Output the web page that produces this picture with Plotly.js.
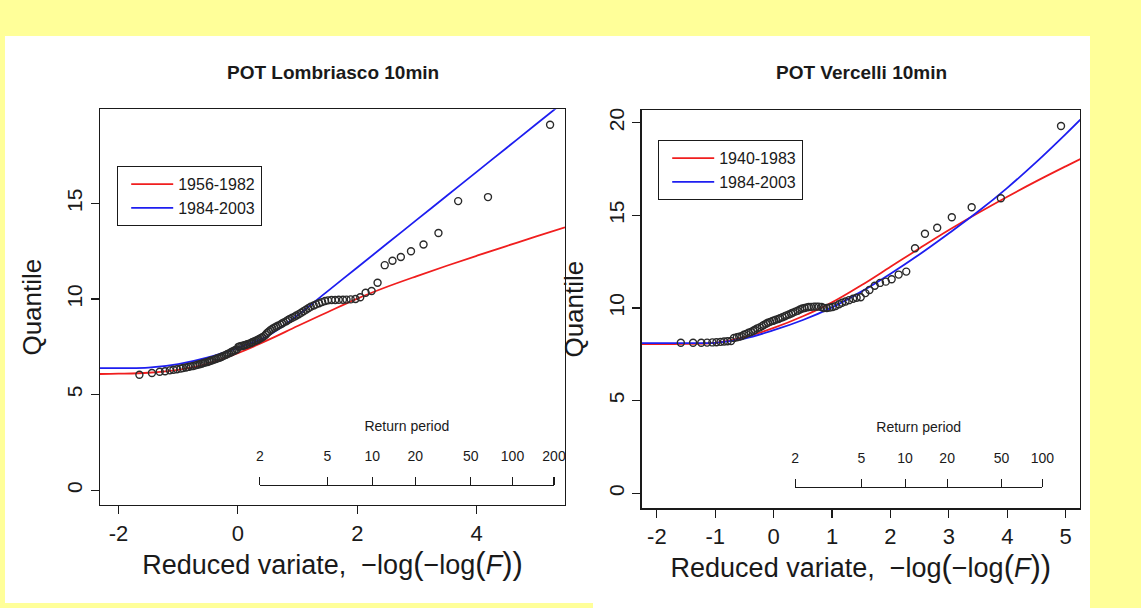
<!DOCTYPE html>
<html><head><meta charset="utf-8">
<script src="https://cdn.plot.ly/plotly-3.0.1.min.js"></script>
<style>html,body{margin:0;padding:0;background:#FFFF99;}#chart{width:1141px;height:608px;}</style>
</head><body><div id="chart"></div>
<script>
// ---------- Left panel: POT Lombriasco 10min ----------
const lombTitle = 'POT Lombriasco 10min';
const lombObsX = [-1.65,-1.44,-1.31,-1.22,-1.14,-1.08,-1.02,-0.96,-0.92,-0.87,-0.83,-0.79,-0.75,-0.71,-0.68,-0.64,-0.61,-0.58,-0.55,-0.51,
  -0.48,-0.46,-0.43,-0.40,-0.37,-0.34,-0.31,-0.28,-0.26,-0.23,-0.20,-0.18,-0.15,-0.12,-0.10,-0.07,-0.05,-0.02,0.01,0.03,
  0.06,0.09,0.11,0.14,0.16,0.19,0.22,0.24,0.27,0.30,0.33,0.35,0.38,0.41,0.44,0.47,0.49,0.52,0.55,0.58,
  0.61,0.64,0.67,0.71,0.74,0.77,0.81,0.84,0.87,0.91,0.95,0.98,1.02,1.06,1.10,1.14,1.18,1.22,1.27,1.31,
  1.36,1.41,1.46,1.51,1.57,1.63,1.69,1.76,1.82,1.89,1.97,2.05,2.14,2.24,2.34,2.46,2.59,2.73,2.90,3.11,
  3.36,3.69,4.19,5.23];
const lombObsY = [6.04,6.13,6.20,6.22,6.27,6.30,6.33,6.36,6.39,6.42,6.45,6.48,6.50,6.53,6.56,6.59,6.62,6.65,6.68,6.71,
  6.74,6.77,6.80,6.83,6.86,6.90,6.93,6.97,7.00,7.04,7.08,7.12,7.16,7.20,7.24,7.28,7.32,7.36,7.50,7.52,
  7.54,7.56,7.58,7.61,7.64,7.67,7.70,7.74,7.78,7.82,7.86,7.90,7.95,8.00,8.06,8.14,8.22,8.30,8.38,8.45,
  8.50,8.55,8.60,8.66,8.72,8.78,8.84,8.90,8.96,9.02,9.08,9.14,9.20,9.28,9.36,9.44,9.52,9.60,9.66,9.72,
  9.78,9.84,9.90,9.93,9.95,9.95,9.96,9.96,9.97,9.98,10.00,10.09,10.33,10.42,10.85,11.77,12.00,12.20,12.50,12.85,
  13.45,15.12,15.33,19.11];
const lombFitX = [-2.31,-2,-1.5,-1,-0.5,0,0.5,1,1.5,2,2.5,3,3.5,4,4.5,5,5.48];
const lombRedY = [6.08,6.095,6.145,6.295,6.625,7.175,7.85,8.59,9.31,10.02,10.64,11.20,11.74,12.26,12.77,13.27,13.75];
const lombBlueY = [6.39,6.39,6.41,6.60,6.95,7.45,8.07,9.15,10.40,11.65,12.90,14.15,15.40,16.65,17.90,19.15,20.35];
const lombLegend = ['1956-1982','1984-2003'];
const lombReturn = [2,5,10,20,50,100,200];
const lombXTicks = [-2,0,2,4];
const lombYTicks = [0,5,10,15];

// ---------- Right panel: POT Vercelli 10min ----------
const vercTitle = 'POT Vercelli 10min';
const vercObsX = [-1.59,-1.38,-1.24,-1.14,-1.05,-0.98,-0.91,-0.85,-0.79,-0.73,-0.68,-0.63,-0.59,-0.55,-0.51,-0.47,-0.43,-0.39,-0.35,-0.32,
  -0.28,-0.24,-0.20,-0.17,-0.13,-0.10,-0.06,-0.02,0.01,0.04,0.08,0.11,0.15,0.19,0.22,0.26,0.30,0.33,0.37,0.41,
  0.45,0.49,0.53,0.57,0.60,0.64,0.69,0.73,0.77,0.82,0.86,0.91,0.96,1.01,1.06,1.12,1.17,1.23,1.29,1.36,
  1.42,1.49,1.57,1.64,1.73,1.82,1.92,2.02,2.14,2.27,2.42,2.59,2.80,3.05,3.39,3.89,4.92];
const vercObsY = [8.12,8.12,8.12,8.13,8.14,8.15,8.17,8.19,8.20,8.22,8.38,8.42,8.45,8.48,8.55,8.60,8.66,8.70,8.77,8.82,
  8.90,8.95,9.02,9.08,9.15,9.20,9.25,9.30,9.33,9.37,9.40,9.45,9.50,9.55,9.60,9.65,9.70,9.75,9.80,9.85,
  9.92,9.97,10.00,10.03,10.05,10.06,10.07,10.07,10.07,10.05,10.00,10.00,10.02,10.05,10.10,10.20,10.28,10.35,10.42,10.50,
  10.55,10.58,10.80,10.97,11.20,11.35,11.42,11.55,11.80,11.96,13.22,14.00,14.33,14.89,15.43,15.92,19.82];
const vercFitX = [-2.26,-1.5,-1,-0.5,0,0.5,1,1.5,2,2.5,3,3.5,4,4.5,5,5.25];
const vercRedY = [8.05,8.06,8.12,8.42,8.92,9.55,10.30,11.22,12.22,13.22,14.20,15.12,16.00,16.84,17.64,18.03];
const vercBlueY = [8.10,8.10,8.12,8.35,8.80,9.35,10.03,10.88,11.85,12.90,14.03,15.20,16.48,17.88,19.38,20.16];
const vercLegend = ['1940-1983','1984-2003'];
const vercReturn = [2,5,10,20,50,100];
const vercXTicks = [-2,-1,0,1,2,3,4,5];
const vercYTicks = [0,5,10,15,20];

const BIG = s => '<span style="font-size:31px">' + s + '</span>';
const xTitle = 'Reduced variate,  \u2212log' + BIG('(') + '\u2212log' + BIG('(') + '<i>F</i>' + BIG(')') + BIG(')');
const yTitle = 'Quantile';
const rpTitle = 'Return period';

// ---------- styling / layout ----------
const W = 1141, H = 608;
const FONT = '"Liberation Sans", Arial, Helvetica, sans-serif';
const RED = '#F01E1E', BLUE = '#1E1EF0', INK = '#1a1a1a';
const px = v => v / W, py = v => 1 - v / H;

// Gumbel reduced variate for a return period (tick placement on the secondary scale)
const rv = T => -Math.log(-Math.log(1 - 1 / T));

const L = {dom: [px(100), px(565)], ydom: [py(505), py(109.3)], xr: [-2.31, 5.48], yr: [-0.77, 19.92]};
const R = {dom: [px(641.7), px(1080)], ydom: [py(508.3), py(110)], xr: [-2.26, 5.245], yr: [-0.81, 20.68]};

function subDomain(P, a, b) {
  const f = v => P.dom[0] + (v - P.xr[0]) / (P.xr[1] - P.xr[0]) * (P.dom[1] - P.dom[0]);
  return [f(a), f(b)];
}

function mainX(P, ticks, anchor) {
  return {domain: P.dom, range: P.xr, anchor: anchor, tickvals: ticks, ticktext: ticks.map(String),
    ticks: 'outside', ticklen: 8, tickwidth: 1.2, tickcolor: INK, showline: true, mirror: true,
    linecolor: INK, linewidth: 1.3, showgrid: false, zeroline: false, fixedrange: true,
    tickfont: {family: FONT, size: 22, color: INK},
    title: {text: xTitle, font: {family: FONT, size: 27, color: INK}, standoff: 4}};
}
function mainY(P, ticks, anchor) {
  return {domain: P.ydom, range: P.yr, anchor: anchor, tickvals: ticks, ticktext: ticks.map(String),
    tickangle: -90, ticks: 'outside', ticklen: 8, tickwidth: 1.2, tickcolor: INK, showline: true, mirror: true,
    linecolor: INK, linewidth: 1.3, showgrid: false, zeroline: false, fixedrange: true,
    tickfont: {family: FONT, size: 21, color: INK},
    title: {text: yTitle, font: {family: FONT, size: 26, color: INK}, standoff: 14}};
}
function rpAxis(P, periods, lineY) {
  const a = rv(periods[0]), b = rv(periods[periods.length - 1]);
  return {domain: subDomain(P, a, b), range: [a, b], anchor: 'free', position: py(lineY), side: 'top',
    tickvals: periods.map(rv), ticktext: periods.map(String), ticks: 'outside', ticklen: 8,
    tickwidth: 1.1, tickcolor: INK, showline: true, linecolor: INK, linewidth: 1.1, showgrid: false,
    zeroline: false, fixedrange: true, ticklabelstandoff: 10,
    tickfont: {family: FONT, size: 14, color: INK},
    title: {text: rpTitle, font: {family: FONT, size: 14, color: INK}, standoff: 12}};
}

const obsStyle = {symbol: 'circle-open', size: 7, color: '#2a2a2a', line: {width: 1.4, color: '#2a2a2a'}};

const traces = [
  // carriers for the return-period scales (no visible marks) - drawn first so they sit underneath
  {x: lombReturn.map(rv), y: lombReturn.map(() => null), xaxis: 'x3', yaxis: 'y', mode: 'markers', showlegend: false, hoverinfo: 'skip'},
  {x: vercReturn.map(rv), y: vercReturn.map(() => null), xaxis: 'x4', yaxis: 'y2', mode: 'markers', showlegend: false, hoverinfo: 'skip'},
  {x: lombFitX, y: lombRedY, xaxis: 'x', yaxis: 'y', mode: 'lines', name: lombLegend[0], legend: 'legend',
   line: {color: RED, width: 1.8, shape: 'spline', smoothing: 1}, hoverinfo: 'skip'},
  {x: lombFitX, y: lombBlueY, xaxis: 'x', yaxis: 'y', mode: 'lines', name: lombLegend[1], legend: 'legend',
   line: {color: BLUE, width: 1.8, shape: 'spline', smoothing: 1}, hoverinfo: 'skip'},
  {x: lombObsX, y: lombObsY, xaxis: 'x', yaxis: 'y', mode: 'markers', showlegend: false, marker: obsStyle},
  {x: vercFitX, y: vercRedY, xaxis: 'x2', yaxis: 'y2', mode: 'lines', name: vercLegend[0], legend: 'legend2',
   line: {color: RED, width: 1.8, shape: 'spline', smoothing: 1}, hoverinfo: 'skip'},
  {x: vercFitX, y: vercBlueY, xaxis: 'x2', yaxis: 'y2', mode: 'lines', name: vercLegend[1], legend: 'legend2',
   line: {color: BLUE, width: 1.8, shape: 'spline', smoothing: 1}, hoverinfo: 'skip'},
  {x: vercObsX, y: vercObsY, xaxis: 'x2', yaxis: 'y2', mode: 'markers', showlegend: false, marker: obsStyle}
];

const legendStyle = {bgcolor: '#ffffff', bordercolor: INK, borderwidth: 1.2, xanchor: 'left', yanchor: 'top',
  font: {family: FONT, size: 16, color: INK}, traceorder: 'normal', itemwidth: 42, indentation: 8, tracegroupgap: 0};

const layout = {
  width: W, height: H, autosize: false,
  margin: {l: 0, r: 0, t: 0, b: 0, pad: 0},
  paper_bgcolor: '#FFFF99', plot_bgcolor: 'rgba(0,0,0,0)',
  font: {family: FONT, color: INK},
  showlegend: true,
  xaxis: mainX(L, lombXTicks, 'y'),
  yaxis: mainY(L, lombYTicks, 'x'),
  xaxis2: mainX(R, vercXTicks, 'y2'),
  yaxis2: mainY(R, vercYTicks, 'x2'),
  xaxis3: rpAxis(L, lombReturn, 485),
  xaxis4: rpAxis(R, vercReturn, 486.5),
  legend: Object.assign({}, legendStyle, {x: px(117), y: py(166)}),
  legend2: Object.assign({}, legendStyle, {x: px(658), y: py(140)}),
  shapes: [
    {type: 'rect', xref: 'paper', yref: 'paper', x0: px(5), x1: px(1090), y0: py(603), y1: py(36),
     fillcolor: '#ffffff', line: {width: 0}, layer: 'below'},
    {type: 'rect', xref: 'paper', yref: 'paper', x0: px(593), x1: px(1090), y0: 0, y1: py(580),
     fillcolor: '#ffffff', line: {width: 0}, layer: 'below'}
  ],
  annotations: [
    {text: '<b>' + lombTitle + '</b>', xref: 'paper', yref: 'paper', x: px(332.5), y: py(73), showarrow: false,
     xanchor: 'center', yanchor: 'middle', font: {family: FONT, size: 19, color: INK}},
    {text: '<b>' + vercTitle + '</b>', xref: 'paper', yref: 'paper', x: px(861), y: py(73), showarrow: false,
     xanchor: 'center', yanchor: 'middle', font: {family: FONT, size: 19, color: INK}}
  ]
};

Plotly.newPlot('chart', traces, layout, {displayModeBar: false, staticPlot: true});
</script></body></html>
